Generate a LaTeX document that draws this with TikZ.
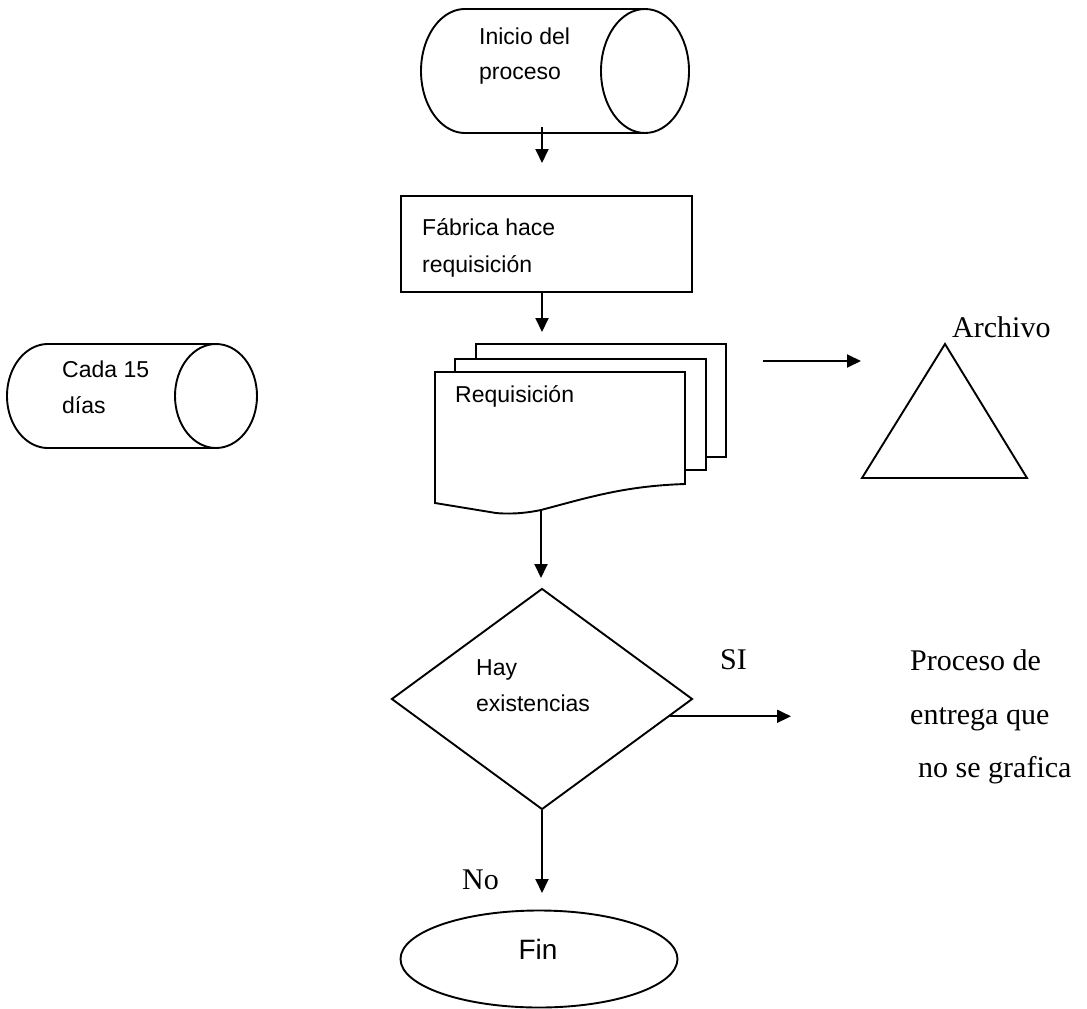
\documentclass[tikz,border=0pt]{standalone}
\usepackage{fontspec}
\setmainfont{Liberation Serif}
\newfontfamily\labelsans{Liberation Sans}
\usetikzlibrary{arrows.meta,shapes.geometric,calc}

\tikzset{
  outline/.style={draw=black, line width=1.9pt, line join=miter},
  flow/.style={draw=black, line width=1.9pt, -{Triangle[length=14pt,width=13pt]}},
  boxtext/.style={anchor=base west, inner sep=0pt, font=\labelsans\fontsize{23}{28}\selectfont},
  serifnote/.style={anchor=base west, inner sep=0pt, font=\fontsize{30}{36}\selectfont},
}

\begin{document}
\begin{tikzpicture}[x=1pt,y=-1pt]
\useasboundingbox (0,0) rectangle (1087,1009);

% start: horizontal cylinder
\draw[outline] (645,9) -- (465,9)
  -- plot[domain=-90:90, samples=60, smooth] ({465-44*cos(\x)},{71+62*sin(\x)})
  -- (645,133);
\draw[outline] (645,71) ellipse[x radius=44, y radius=62];
\node[boxtext] (inicio1) at (479,44) {Inicio del};
\node[boxtext] (inicio2) at (479,79) {proceso};
\coordinate (inicioOut) at (542,127);
\coordinate (inicioTip) at (542,163);
\draw[flow] (inicioOut) -- (inicioTip);

% side note cylinder
\draw[outline] (216,344) -- (48,344)
  -- plot[domain=-90:90, samples=60, smooth] ({48-41*cos(\x)},{396+52*sin(\x)})
  -- (216,448);
\draw[outline] (216,396) ellipse[x radius=41, y radius=52];
\node[boxtext] (cada1) at (62,377) {Cada 15};
\node[boxtext] (cada2) at (62,413) {días};

% process box
\node[outline, rectangle, minimum width=291pt, minimum height=96pt, inner sep=0pt] (fabrica) at (546.5,244) {};
\node[boxtext] (fabrica1) at (422,235) {Fábrica hace};
\node[boxtext] (fabrica2) at (422,272) {requisición};
\coordinate (fabricaTip) at (542,332);
\draw[flow] (fabrica.south -| fabricaTip) -- (fabricaTip);

% multi-document stack
\draw[outline, fill=white] (476,344) rectangle (726,457);
\draw[outline, fill=white] (455,359) rectangle (706,470);
\draw[outline, fill=white] (435,503) -- (435,372) -- (685,372) -- (685,484)
  .. controls (625,486) and (590,497) .. (541,510)
  .. controls (522,514) and (506,514) .. (496,513) -- cycle;
\node[boxtext] (requisicion) at (455,402) {Requisición};
\coordinate (docOut) at (541,510);
\coordinate (docTip) at (541,578);
\draw[flow] (docOut) -- (docTip);

% archive
\coordinate (archOut) at (763,361);
\coordinate (archTip) at (861,361);
\draw[flow] (archOut) -- (archTip);
\draw[outline] (945,344) -- (1027,478) -- (862,478) -- cycle;
\node[serifnote] (archivo) at (952,337) {Archivo};

% decision
\node[outline, diamond, minimum width=301pt, minimum height=221pt, inner sep=0pt] (hay) at (542,699) {};
\node[boxtext] (hay1) at (476,675) {Hay};
\node[boxtext] (hay2) at (476,711) {existencias};
\coordinate (siOut) at ($(hay.east)!0.155!(hay.south)$);
\coordinate (siTip) at (791,717);
\draw[flow] (siOut) -- (siOut -| siTip);
\node[serifnote] (si) at (720,669) {SI};
\node[serifnote] (entrega1) at (910,670) {Proceso de};
\node[serifnote] (entrega2) at (910,724) {entrega que};
\node[serifnote] (entrega3) at (918,777) {no se grafica};

% end
\coordinate (noTip) at (542,893);
\draw[flow] (hay.south) -- (hay.south |- noTip);
\node[serifnote] (no) at (462,889) {No};
\node[outline, ellipse, minimum width=277pt, minimum height=97pt, inner sep=0pt] (fin) at (539,959) {};
\node[boxtext, anchor=base, font=\labelsans\fontsize{28}{32}\selectfont] (fintext) at (538,959) {Fin};
\end{tikzpicture}
\end{document}
